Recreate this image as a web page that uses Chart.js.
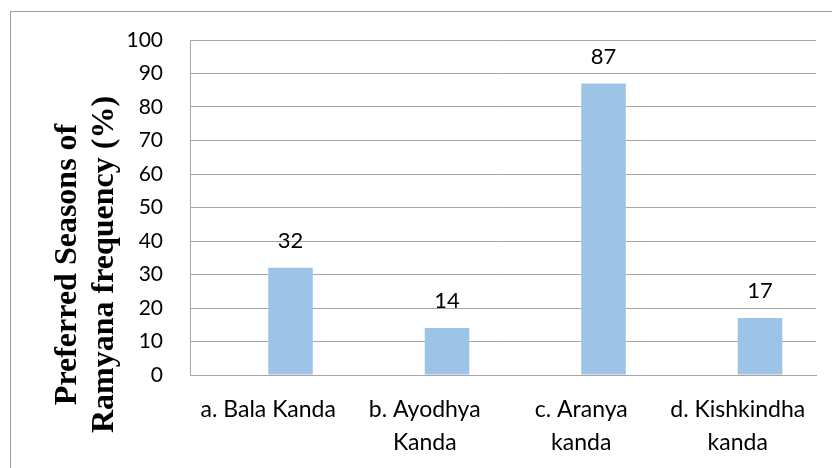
<!DOCTYPE html>
<html>
<head>
<meta charset="utf-8">
<script src="https://cdn.jsdelivr.net/npm/chart.js@4"></script>
<style>
  html, body { margin: 0; padding: 0; background: #ffffff; }
  #wrap { width: 832px; height: 468px; position: relative; }
</style>
</head>
<body>
<div id="wrap"><canvas id="c" width="832" height="468"></canvas></div>
<script>
// ---- data ----
const categories = [
  ['a. Bala Kanda'],
  ['b. Ayodhya', 'Kanda'],
  ['c. Aranya', 'kanda'],
  ['d. Kishkindha', 'kanda']
];
const emptySeries = [null, null, null, null];   // empty first series (Excel layout)
const frequency = [32, 14, 87, 17];
const yTicks = [0, 10, 20, 30, 40, 50, 60, 70, 80, 90, 100];
const yTitleLines = ['Preferred Seasons of', 'Ramyana frequency (%)'];

const FONT = 'Lato, "Open Sans", sans-serif';
const GRID = '#a6a6a6';

const framePlugin = {
  id: 'frame',
  beforeDraw(chart) {
    const ctx = chart.ctx;
    ctx.save();
    ctx.fillStyle = '#ffffff';
    ctx.fillRect(0, 0, chart.width, chart.height);
    ctx.strokeStyle = '#a0a0a0';
    ctx.lineWidth = 1;
    ctx.strokeRect(10.5, 11.5, 1000, 1000);
    ctx.restore();
  }
};

const labelPlugin = {
  id: 'valueLabels',
  afterDatasetsDraw(chart) {
    const ctx = chart.ctx;
    const meta = chart.getDatasetMeta(1);
    ctx.save();
    ctx.font = '22px ' + FONT;
    ctx.fillStyle = '#000000';
    ctx.textAlign = 'center';
    ctx.textBaseline = 'middle';
    meta.data.forEach((bar, i) => {
      const v = frequency[i];
      if (v == null) return;
      ctx.fillText(String(v), bar.x, bar.y - 27);
    });
    ctx.restore();
  }
};

const yTitlePlugin = {
  id: 'yTitle',
  afterDraw(chart) {
    const ctx = chart.ctx;
    const area = chart.chartArea;
    ctx.save();
    ctx.font = 'bold 32px "Liberation Serif", "Times New Roman", serif';
    ctx.fillStyle = '#000000';
    ctx.textAlign = 'center';
    ctx.textBaseline = 'alphabetic';
    ctx.translate(76, area.top + (area.bottom - area.top) * 0.67);
    ctx.rotate(-Math.PI / 2);
    yTitleLines.forEach((line, i) => ctx.fillText(line, 0, i * 37));
    ctx.restore();
  }
};

new Chart(document.getElementById('c'), {
  type: 'bar',
  data: {
    labels: categories,
    datasets: [
      {
        label: 'Series 1',
        data: emptySeries,
        backgroundColor: '#9dc3e6',
        categoryPercentage: 0.569,
        barPercentage: 1.0
      },
      {
        label: 'Frequency (%)',
        data: frequency,
        backgroundColor: '#9dc3e6',
        categoryPercentage: 0.569,
        barPercentage: 1.0
      }
    ]
  },
  options: {
    responsive: false,
    animation: false,
    devicePixelRatio: 1,
    layout: { padding: { left: 0, right: 16, top: 40, bottom: 0 } },
    plugins: {
      legend: { display: false },
      title: { display: false },
      tooltip: { enabled: false }
    },
    scales: {
      x: {
        grid: { display: false, drawTicks: false },
        border: { display: true, color: GRID, width: 1 },
        ticks: {
          color: '#000000',
          font: { family: FONT, size: 23, lineHeight: 1.43 },
          padding: 18,
          maxRotation: 0,
          minRotation: 0,
          autoSkip: false
        },
        afterFit(scale) { scale.height = 93; }
      },
      y: {
        min: 0,
        max: 100,
        grid: { color: GRID, lineWidth: 1, drawTicks: false },
        border: { display: true, color: GRID, width: 1 },
        ticks: {
          stepSize: 10,
          color: '#000000',
          font: { family: FONT, size: 21 },
          padding: 27,
          callback: (v) => yTicks.includes(v) ? String(v) : ''
        },
        afterFit(scale) { scale.width = 190; }
      }
    }
  },
  plugins: [framePlugin, labelPlugin, yTitlePlugin]
});
</script>
</body>
</html>
